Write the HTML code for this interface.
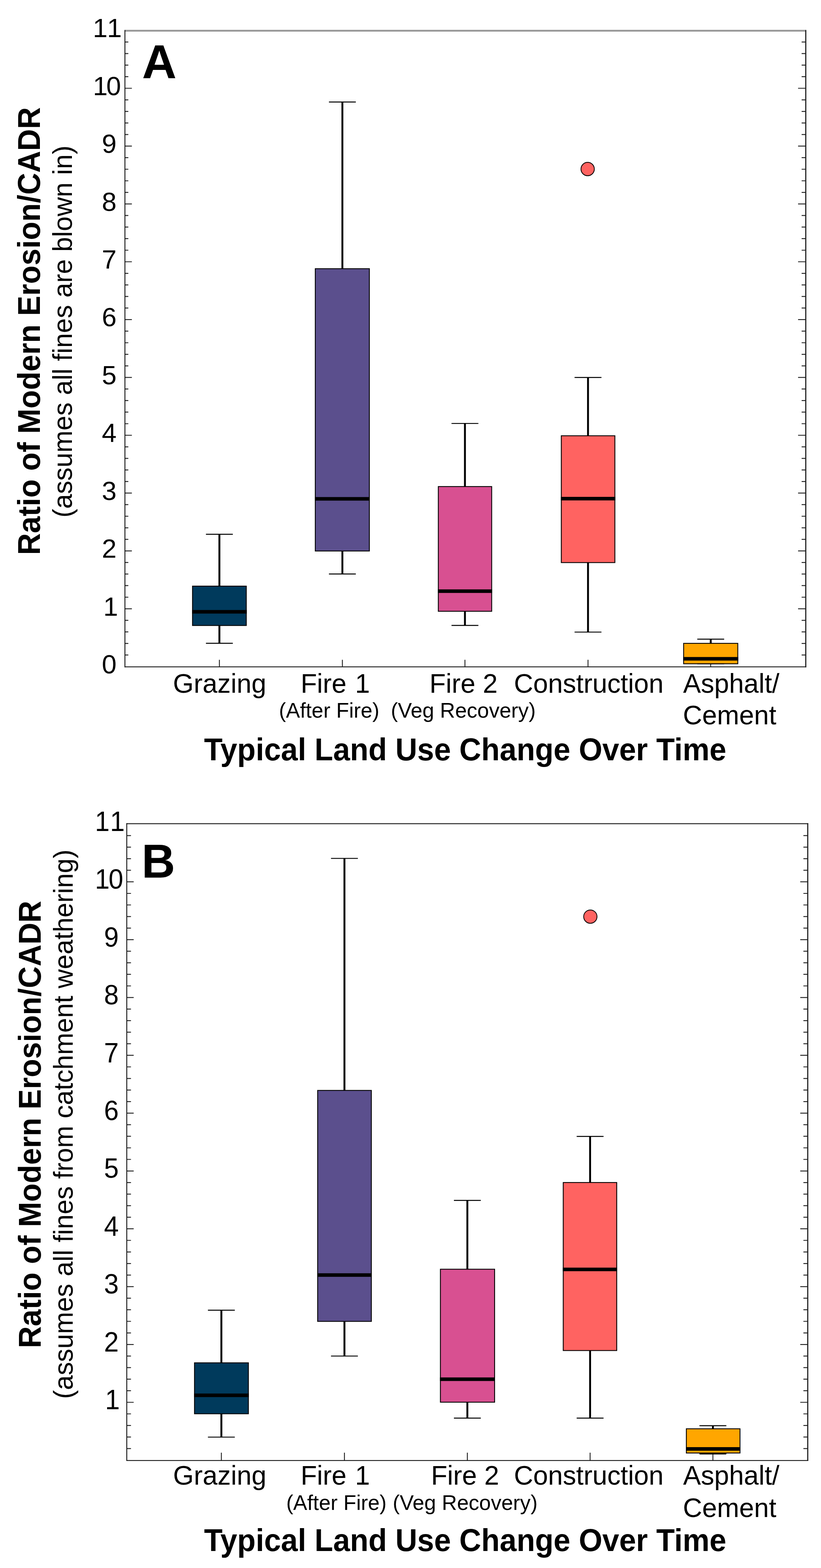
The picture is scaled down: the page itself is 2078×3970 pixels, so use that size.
<!DOCTYPE html>
<html lang="en"><head><meta charset="utf-8">
<title>Ratio of Modern Erosion/CADR by land use change</title>
<style>
html,body{margin:0;padding:0;background:#fff;}
body{width:2078px;height:3970px;overflow:hidden;}
svg{display:block;}
text{font-family:"Liberation Sans", sans-serif;fill:#000;}
.b{font-weight:bold;}
</style></head><body>
<svg width="2078" height="3970" viewBox="0 0 2078 3970" role="img" aria-label="Box plots of the ratio of modern erosion to CADR for typical land use changes">
<rect x="0" y="0" width="2078" height="3970" fill="#ffffff"/>
<g id="plotA">
<path d="M316.2 1658.42h8.6M316.2 1629.13h8.6M316.2 1599.85h8.6M316.2 1570.56h8.6M316.2 1541.28h17.6M316.2 1512h8.6M316.2 1482.71h8.6M316.2 1453.43h8.6M316.2 1424.14h8.6M316.2 1394.86h17.6M316.2 1365.58h8.6M316.2 1336.29h8.6M316.2 1307.01h8.6M316.2 1277.72h8.6M316.2 1248.44h17.6M316.2 1219.16h8.6M316.2 1189.87h8.6M316.2 1160.59h8.6M316.2 1131.3h8.6M316.2 1102.02h17.6M316.2 1072.74h8.6M316.2 1043.45h8.6M316.2 1014.17h8.6M316.2 984.88h8.6M316.2 955.6h17.6M316.2 926.32h8.6M316.2 897.03h8.6M316.2 867.75h8.6M316.2 838.46h8.6M316.2 809.18h17.6M316.2 779.9h8.6M316.2 750.61h8.6M316.2 721.33h8.6M316.2 692.04h8.6M316.2 662.76h17.6M316.2 633.48h8.6M316.2 604.19h8.6M316.2 574.91h8.6M316.2 545.62h8.6M316.2 516.34h17.6M316.2 487.06h8.6M316.2 457.77h8.6M316.2 428.49h8.6M316.2 399.2h8.6M316.2 369.92h17.6M316.2 340.64h8.6M316.2 311.35h8.6M316.2 282.07h8.6M316.2 252.78h8.6M316.2 223.5h17.6M316.2 194.22h8.6M316.2 164.93h8.6M316.2 135.65h8.6M316.2 106.36h8.6" stroke="#1c1c1c" stroke-width="2.2" fill="none"/>
<path d="M2039.45 1658.42h-10.5M2039.45 1629.13h-10.5M2039.45 1599.85h-10.5M2039.45 1570.56h-10.5M2039.45 1541.28h-19.5M2039.45 1512h-10.5M2039.45 1482.71h-10.5M2039.45 1453.43h-10.5M2039.45 1424.14h-10.5M2039.45 1394.86h-19.5M2039.45 1365.58h-10.5M2039.45 1336.29h-10.5M2039.45 1307.01h-10.5M2039.45 1277.72h-10.5M2039.45 1248.44h-19.5M2039.45 1219.16h-10.5M2039.45 1189.87h-10.5M2039.45 1160.59h-10.5M2039.45 1131.3h-10.5M2039.45 1102.02h-19.5M2039.45 1072.74h-10.5M2039.45 1043.45h-10.5M2039.45 1014.17h-10.5M2039.45 984.88h-10.5M2039.45 955.6h-19.5M2039.45 926.32h-10.5M2039.45 897.03h-10.5M2039.45 867.75h-10.5M2039.45 838.46h-10.5M2039.45 809.18h-19.5M2039.45 779.9h-10.5M2039.45 750.61h-10.5M2039.45 721.33h-10.5M2039.45 692.04h-10.5M2039.45 662.76h-19.5M2039.45 633.48h-10.5M2039.45 604.19h-10.5M2039.45 574.91h-10.5M2039.45 545.62h-10.5M2039.45 516.34h-19.5M2039.45 487.06h-10.5M2039.45 457.77h-10.5M2039.45 428.49h-10.5M2039.45 399.2h-10.5M2039.45 369.92h-19.5M2039.45 340.64h-10.5M2039.45 311.35h-10.5M2039.45 282.07h-10.5M2039.45 252.78h-10.5M2039.45 223.5h-19.5M2039.45 194.22h-10.5M2039.45 164.93h-10.5M2039.45 135.65h-10.5M2039.45 106.36h-10.5" stroke="#1c1c1c" stroke-width="2.2" fill="none"/>
<path d="M555.3 1688.4v-18M866.6 1688.4v-18M1176.8 1688.4v-18M1488.3 1688.4v-18M1798.9 1688.4v-18" stroke="#1c1c1c" stroke-width="2.2" fill="none"/>
<path d="M555.3 1352.8V1628.8" stroke="#000" stroke-width="4.8" fill="none"/>
<path d="M521.3 1352.8h68 M521.3 1628.8h68" stroke="#000" stroke-width="2.4" fill="none"/>
<rect x="487.3" y="1484" width="136.1" height="99.7" fill="#003a5c" stroke="#000" stroke-width="2.2"/>
<path d="M486.2 1548.9H624.5" stroke="#000" stroke-width="9" fill="none"/>
<path d="M866.6 258.3V1453.3" stroke="#000" stroke-width="4.8" fill="none"/>
<path d="M832.6 258.3h68 M832.6 1453.3h68" stroke="#000" stroke-width="2.4" fill="none"/>
<rect x="798" y="680.3" width="136.9" height="714.8" fill="#5b4f8d" stroke="#000" stroke-width="2.2"/>
<path d="M796.9 1262.9H936" stroke="#000" stroke-width="9" fill="none"/>
<path d="M1176.8 1072.1V1583.5" stroke="#000" stroke-width="4.8" fill="none"/>
<path d="M1142.8 1072.1h68 M1142.8 1583.5h68" stroke="#000" stroke-width="2.4" fill="none"/>
<rect x="1109.4" y="1231.9" width="135.1" height="315.8" fill="#d85091" stroke="#000" stroke-width="2.2"/>
<path d="M1108.3 1496.7H1245.6" stroke="#000" stroke-width="9" fill="none"/>
<path d="M1488.3 955.8V1600.4" stroke="#000" stroke-width="4.8" fill="none"/>
<path d="M1454.3 955.8h68 M1454.3 1600.4h68" stroke="#000" stroke-width="2.4" fill="none"/>
<rect x="1420.7" y="1103.3" width="135.6" height="321.1" fill="#ff6361" stroke="#000" stroke-width="2.2"/>
<path d="M1419.6 1262.6H1557.4" stroke="#000" stroke-width="9" fill="none"/>
<path d="M1798.9 1618.2V1680.8" stroke="#000" stroke-width="4.8" fill="none"/>
<path d="M1764.9 1618.2h68 M1764.9 1680.8h68" stroke="#000" stroke-width="2.4" fill="none"/>
<rect x="1730.3" y="1628.9" width="137.1" height="51.7" fill="#ffa600" stroke="#000" stroke-width="2.2"/>
<path d="M1729.2 1667.9H1868.5" stroke="#000" stroke-width="9" fill="none"/>
<circle cx="1487.4" cy="428" r="16.9" fill="#ff6361" stroke="#000" stroke-width="2"/>
<rect x="315.1" y="75" width="1725.75" height="2.1" fill="#bcbcbc"/>
<rect x="315.1" y="77.1" width="1725.75" height="2.6" fill="#808080"/>
<path d="M316.2 76.3V1689.6" stroke="#0c0c0c" stroke-width="2.2" fill="none"/>
<path d="M2039.45 76.3V1689.6" stroke="#1e1e1e" stroke-width="2.8" fill="none"/>
<path d="M315.1 1688.4H2040.85" stroke="#1a1a1a" stroke-width="2.4" fill="none"/>
<text transform="translate(0 94.38) scale(1 1)" x="235 270.9" y="0" font-size="67">11</text>
<text transform="translate(0 240.8) scale(1 1)" x="235.2 268.9" y="0" font-size="67">10</text>
<text transform="translate(0 387.22) scale(1 1)" x="257.7" y="0" font-size="67">9</text>
<text transform="translate(0 533.64) scale(1 1)" x="257.7" y="0" font-size="67">8</text>
<text transform="translate(0 680.06) scale(1 1)" x="257.7" y="0" font-size="67">7</text>
<text transform="translate(0 826.48) scale(1 1)" x="257.7" y="0" font-size="67">6</text>
<text transform="translate(0 972.9) scale(1 1)" x="257.7" y="0" font-size="67">5</text>
<text transform="translate(0 1119.32) scale(1 1)" x="257.7" y="0" font-size="67">4</text>
<text transform="translate(0 1265.74) scale(1 1)" x="257.7" y="0" font-size="67">3</text>
<text transform="translate(0 1412.16) scale(1 1)" x="257.7" y="0" font-size="67">2</text>
<text transform="translate(0 1558.58) scale(1 1)" x="261.4" y="0" font-size="67">1</text>
<text transform="translate(0 1705) scale(1 1)" x="257.7" y="0" font-size="67">0</text>
<text class="b" transform="translate(359.6 198.2) scale(1 1)" font-size="121">A</text>
<text class="b" transform="translate(101 1405.3) rotate(-90) scale(1 1.035)" font-size="76.75">Ratio of Modern Erosion/CADR</text>
<text transform="translate(182.3 1310.6) rotate(-90) scale(1 1.025)" font-size="67.3">(assumes all fines are blown in)</text>
<text transform="translate(437.7 1753.8) scale(1 1.025)" font-size="67.5">Grazing</text>
<text transform="translate(760.9 1753.8) scale(1 1.025)" font-size="67.5">Fire <tspan dx="3">1</tspan></text>
<text transform="translate(1087 1753.8) scale(1 1.025)" font-size="67.5">Fire 2</text>
<text transform="translate(1300.8 1753.8) scale(1 1.025)" font-size="67.5">Construction</text>
<text transform="translate(1729 1753.8) scale(1 1.025)" font-size="67.5">Asphalt/</text>
<text transform="translate(1728.6 1833.8) scale(1 1.025)" font-size="67.5">Cement</text>
<text x="706.1" y="1816.5" font-size="53.2">(After Fire)</text>
<text x="989.3" y="1816.5" font-size="53.2">(Veg Recovery)</text>
<text class="b" transform="translate(516.6 1924.7) scale(1 1.035)" font-size="76.65">Typical Land Use Change Over Time</text>
</g>
<g id="plotB">
<path d="M320.9 3667.62h10.6M320.9 3638.33h10.6M320.9 3609.05h10.6M320.9 3579.76h10.6M320.9 3550.48h17.5M320.9 3521.2h10.6M320.9 3491.91h10.6M320.9 3462.63h10.6M320.9 3433.34h10.6M320.9 3404.06h17.5M320.9 3374.78h10.6M320.9 3345.49h10.6M320.9 3316.21h10.6M320.9 3286.92h10.6M320.9 3257.64h17.5M320.9 3228.36h10.6M320.9 3199.07h10.6M320.9 3169.79h10.6M320.9 3140.5h10.6M320.9 3111.22h17.5M320.9 3081.94h10.6M320.9 3052.65h10.6M320.9 3023.37h10.6M320.9 2994.08h10.6M320.9 2964.8h17.5M320.9 2935.52h10.6M320.9 2906.23h10.6M320.9 2876.95h10.6M320.9 2847.66h10.6M320.9 2818.38h17.5M320.9 2789.1h10.6M320.9 2759.81h10.6M320.9 2730.53h10.6M320.9 2701.24h10.6M320.9 2671.96h17.5M320.9 2642.68h10.6M320.9 2613.39h10.6M320.9 2584.11h10.6M320.9 2554.82h10.6M320.9 2525.54h17.5M320.9 2496.26h10.6M320.9 2466.97h10.6M320.9 2437.69h10.6M320.9 2408.4h10.6M320.9 2379.12h17.5M320.9 2349.84h10.6M320.9 2320.55h10.6M320.9 2291.27h10.6M320.9 2261.98h10.6M320.9 2232.7h17.5M320.9 2203.42h10.6M320.9 2174.13h10.6M320.9 2144.85h10.6M320.9 2115.56h10.6" stroke="#1c1c1c" stroke-width="2.2" fill="none"/>
<path d="M2044.45 3667.62h-11M2044.45 3638.33h-11M2044.45 3609.05h-11M2044.45 3579.76h-11M2044.45 3550.48h-19M2044.45 3521.2h-11M2044.45 3491.91h-11M2044.45 3462.63h-11M2044.45 3433.34h-11M2044.45 3404.06h-19M2044.45 3374.78h-11M2044.45 3345.49h-11M2044.45 3316.21h-11M2044.45 3286.92h-11M2044.45 3257.64h-19M2044.45 3228.36h-11M2044.45 3199.07h-11M2044.45 3169.79h-11M2044.45 3140.5h-11M2044.45 3111.22h-19M2044.45 3081.94h-11M2044.45 3052.65h-11M2044.45 3023.37h-11M2044.45 2994.08h-11M2044.45 2964.8h-19M2044.45 2935.52h-11M2044.45 2906.23h-11M2044.45 2876.95h-11M2044.45 2847.66h-11M2044.45 2818.38h-19M2044.45 2789.1h-11M2044.45 2759.81h-11M2044.45 2730.53h-11M2044.45 2701.24h-11M2044.45 2671.96h-19M2044.45 2642.68h-11M2044.45 2613.39h-11M2044.45 2584.11h-11M2044.45 2554.82h-11M2044.45 2525.54h-19M2044.45 2496.26h-11M2044.45 2466.97h-11M2044.45 2437.69h-11M2044.45 2408.4h-11M2044.45 2379.12h-19M2044.45 2349.84h-11M2044.45 2320.55h-11M2044.45 2291.27h-11M2044.45 2261.98h-11M2044.45 2232.7h-19M2044.45 2203.42h-11M2044.45 2174.13h-11M2044.45 2144.85h-11M2044.45 2115.56h-11" stroke="#1c1c1c" stroke-width="2.2" fill="none"/>
<path d="M560.3 3697.9v-20M871.8 3697.9v-20M1182.9 3697.9v-20M1493.6 3697.9v-20M1804.4 3697.9v-20" stroke="#1c1c1c" stroke-width="2.2" fill="none"/>
<path d="M560.3 3317.2V3638.6" stroke="#000" stroke-width="4.8" fill="none"/>
<path d="M526.3 3317.2h68 M526.3 3638.6h68" stroke="#000" stroke-width="2.4" fill="none"/>
<rect x="492.3" y="3450.5" width="136.4" height="129" fill="#003a5c" stroke="#000" stroke-width="2.2"/>
<path d="M491.2 3532.7H629.8" stroke="#000" stroke-width="9" fill="none"/>
<path d="M871.8 2173.4V3433.4" stroke="#000" stroke-width="4.8" fill="none"/>
<path d="M837.8 2173.4h68 M837.8 3433.4h68" stroke="#000" stroke-width="2.4" fill="none"/>
<rect x="804" y="2760.8" width="135.9" height="584.8" fill="#5b4f8d" stroke="#000" stroke-width="2.2"/>
<path d="M802.9 3228.3H941" stroke="#000" stroke-width="9" fill="none"/>
<path d="M1182.9 3039.2V3590.5" stroke="#000" stroke-width="4.8" fill="none"/>
<path d="M1148.9 3039.2h68 M1148.9 3590.5h68" stroke="#000" stroke-width="2.4" fill="none"/>
<rect x="1114.7" y="3213.5" width="137.2" height="336.7" fill="#d85091" stroke="#000" stroke-width="2.2"/>
<path d="M1113.6 3492.1H1253" stroke="#000" stroke-width="9" fill="none"/>
<path d="M1493.6 2877.3V3590.5" stroke="#000" stroke-width="4.8" fill="none"/>
<path d="M1459.6 2877.3h68 M1459.6 3590.5h68" stroke="#000" stroke-width="2.4" fill="none"/>
<rect x="1425.6" y="2994" width="135.4" height="425.4" fill="#ff6361" stroke="#000" stroke-width="2.2"/>
<path d="M1424.5 3213.9H1562.1" stroke="#000" stroke-width="9" fill="none"/>
<path d="M1804.4 3609.7V3681.3" stroke="#000" stroke-width="4.8" fill="none"/>
<path d="M1770.4 3609.7h68 M1770.4 3681.3h68" stroke="#000" stroke-width="2.4" fill="none"/>
<rect x="1737.2" y="3617.5" width="135.8" height="61.4" fill="#ffa600" stroke="#000" stroke-width="2.2"/>
<path d="M1736.1 3668.4H1874.1" stroke="#000" stroke-width="9" fill="none"/>
<circle cx="1494.2" cy="2320.8" r="16.9" fill="#ff6361" stroke="#000" stroke-width="2"/>
<path d="M319.8 2085.5H2045.85" stroke="#2a2a2a" stroke-width="2.4" fill="none"/>
<path d="M320.9 2084.3V3699.1" stroke="#0c0c0c" stroke-width="2.2" fill="none"/>
<path d="M2044.45 2084.3V3699.1" stroke="#1e1e1e" stroke-width="2.8" fill="none"/>
<path d="M319.8 3697.9H2045.85" stroke="#1a1a1a" stroke-width="2.4" fill="none"/>
<text transform="translate(0 2103.88) scale(1 1.04)" x="240.2 278.5" y="0" font-size="67">11</text>
<text transform="translate(0 2250.3) scale(1 1.04)" x="240.2 274.7" y="0" font-size="67">10</text>
<text transform="translate(0 2396.72) scale(1 1.04)" x="263.3" y="0" font-size="67">9</text>
<text transform="translate(0 2543.14) scale(1 1.04)" x="263.3" y="0" font-size="67">8</text>
<text transform="translate(0 2689.56) scale(1 1.04)" x="263.3" y="0" font-size="67">7</text>
<text transform="translate(0 2835.98) scale(1 1.04)" x="263.3" y="0" font-size="67">6</text>
<text transform="translate(0 2982.4) scale(1 1.04)" x="263.3" y="0" font-size="67">5</text>
<text transform="translate(0 3128.82) scale(1 1.04)" x="263.3" y="0" font-size="67">4</text>
<text transform="translate(0 3275.24) scale(1 1.04)" x="263.3" y="0" font-size="67">3</text>
<text transform="translate(0 3421.66) scale(1 1.04)" x="263.3" y="0" font-size="67">2</text>
<text transform="translate(0 3568.08) scale(1 1.04)" x="266" y="0" font-size="67">1</text>
<text class="b" transform="translate(358.6 2222.2) scale(1 1.022)" font-size="117.5">B</text>
<text class="b" transform="translate(103.1 3413.3) rotate(-90) scale(1 1.035)" font-size="76.65">Ratio of Modern Erosion/CADR</text>
<text transform="translate(184.3 3541.9) rotate(-90) scale(1 1.025)" font-size="67.3">(assumes all fines from catchment weathering)</text>
<text transform="translate(438 3759.3) scale(1 1.025)" font-size="67.5">Grazing</text>
<text transform="translate(760.9 3759.3) scale(1 1.025)" font-size="67.5">Fire <tspan dx="3">1</tspan></text>
<text transform="translate(1090.9 3759.3) scale(1 1.025)" font-size="67.5">Fire 2</text>
<text transform="translate(1300.8 3759.3) scale(1 1.025)" font-size="67.5">Construction</text>
<text transform="translate(1729 3759.3) scale(1 1.025)" font-size="67.5">Asphalt/</text>
<text transform="translate(1728.6 3840.6) scale(1 1.025)" font-size="67.5">Cement</text>
<text x="724.4" y="3822.9" font-size="53.2">(After Fire)</text>
<text x="994.1" y="3822.9" font-size="53.2">(Veg Recovery)</text>
<text class="b" transform="translate(516.6 3927) scale(1 1.035)" font-size="76.65">Typical Land Use Change Over Time</text>
</g>
</svg>
</body></html>
